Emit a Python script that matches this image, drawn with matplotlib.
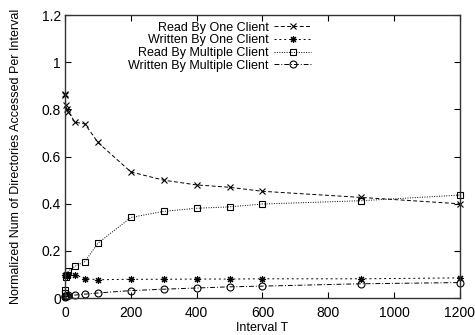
import matplotlib
matplotlib.use("Agg")
import matplotlib.pyplot as plt

# ---- data ----
interval_t = [0, 1, 2, 5, 10, 30, 60, 100, 200, 300, 400, 500, 600, 900, 1200]
read_one = [0.864, 0.86, 0.82, 0.80, 0.79, 0.746, 0.739, 0.66, 0.535, 0.50, 0.48, 0.47, 0.453, 0.427, 0.40]
written_one = [0.10, 0.10, 0.10, 0.095, 0.10, 0.10, 0.083, 0.078, 0.08, 0.08, 0.081, 0.081, 0.082, 0.082, 0.086]
read_multi = [0.02, 0.035, 0.09, 0.10, 0.115, 0.135, 0.155, 0.233, 0.342, 0.368, 0.381, 0.387, 0.399, 0.413, 0.437]
written_multi = [0.005, 0.007, 0.008, 0.01, 0.012, 0.013, 0.017, 0.022, 0.032, 0.038, 0.043, 0.048, 0.051, 0.061, 0.066]

series_labels = ["Read By One Client", "Written By One Client",
                 "Read By Multiple Client", "Written By Multiple Client"]
x_ticks = [0, 200, 400, 600, 800, 1000, 1200]
x_tick_labels = ["0", "200", "400", "600", "800", "1000", "1200"]
y_ticks = [0, 0.2, 0.4, 0.6, 0.8, 1.0, 1.2]
y_tick_labels = ["0", "0.2", "0.4", "0.6", "0.8", "1", "1.2"]
x_label = "Interval T"
y_label = "Normalized Num of Directories Accessed Per Interval"

plt.rcParams['font.family'] = ['Liberation Sans', 'DejaVu Sans']

fig = plt.figure(figsize=(4.75, 3.35), dpi=100)
ax = fig.add_axes([0.137, 0.110, 0.831, 0.845])

lw = 0.7
ms = 5
common = dict(color='black', linewidth=lw, clip_on=False, markersize=ms, markeredgewidth=0.8)
ax.plot(interval_t, read_one, linestyle=(0, (4, 2.5)), marker='x', label=series_labels[0], **common)
ax.plot(interval_t, written_one, linestyle=(0, (2, 3)), marker=(8, 2, 0), label=series_labels[1], **common)
ax.plot(interval_t, read_multi, linestyle=(0, (1, 1.5)), marker='s', markerfacecolor='none', label=series_labels[2], **common)
ax.plot(interval_t, written_multi, linestyle=(0, (5, 2, 1, 2)), marker='o', markerfacecolor='none', label=series_labels[3], **common)

ax.set_xlim(0, 1200)
ax.set_ylim(0, 1.2)
ax.set_xticks(x_ticks)
ax.set_xticklabels(x_tick_labels)
ax.set_yticks(y_ticks)
ax.set_yticklabels(y_tick_labels)
ax.tick_params(direction='in', length=4, width=0.8, top=True, right=True, labelsize=10)
ax.tick_params(axis='x', pad=6)
ax.tick_params(axis='y', pad=3)
for s in ax.spines.values():
    s.set_linewidth(1.0)
    s.set_color('#333333')

ax.set_xlabel(x_label, fontsize=9, labelpad=1)
ax.set_ylabel(y_label, fontsize=9, labelpad=14)

leg = ax.legend(loc='upper right', bbox_to_anchor=(0.643, 1.003), markerfirst=False,
                frameon=False, fontsize=9, handlelength=3.0, handletextpad=0.4,
                labelspacing=0.05, borderaxespad=0.2)

fig.savefig("out.png", dpi=100)
